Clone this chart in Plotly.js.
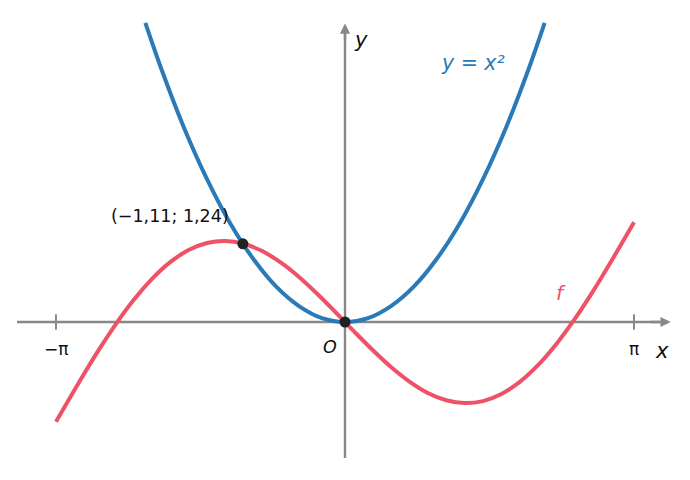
<!DOCTYPE html>
<html>
<head>
<meta charset="utf-8">
<script src="https://cdn.plot.ly/plotly-3.0.1.min.js"></script>
<style>
  body { margin: 0; background: #fff; }
  #chart { width: 690px; height: 480px; }
</style>
</head>
<body>
<div id="chart"></div>
<script>
var redX = [-3.1416, -2.9, -2.7, -2.5, -2.3, -2.1, -1.9, -1.7, -1.5, -1.3, -1.1, -0.9, -0.7, -0.5, -0.3, -0.1, 0,
            0.1, 0.3, 0.5, 0.7, 0.9, 1.1, 1.3, 1.5, 1.7, 1.9, 2.1, 2.3, 2.5, 2.7, 2.9, 3.1416];
var redY = [-1.571, -0.972, -0.495, -0.053, 0.341, 0.676, 0.943, 1.133, 1.245, 1.277, 1.232, 1.117, 0.938, 0.709, 0.441, 0.150, 0,
            -0.150, -0.441, -0.709, -0.938, -1.117, -1.232, -1.277, -1.245, -1.133, -0.943, -0.676, -0.341, 0.053, 0.495, 0.972, 1.571];

var blueX = [-2.17, -2.0, -1.75, -1.5, -1.25, -1.0, -0.75, -0.5, -0.25, 0, 0.25, 0.5, 0.75, 1.0, 1.25, 1.5, 1.75, 2.0, 2.17];
var blueY = [4.71, 4.0, 3.06, 2.25, 1.56, 1.0, 0.56, 0.25, 0.06, 0, 0.06, 0.25, 0.56, 1.0, 1.56, 2.25, 3.06, 4.0, 4.71];

var pointX = [-1.11, 0];
var pointY = [1.232, 0];

var tickVals = [-Math.PI, Math.PI];
var tickText = ['−π', 'π'];

var gray = '#888888';
var red = '#ee5266';
var blue = '#2a7ab8';
var font = 'DejaVu Sans, sans-serif';

var traces = [
  {
    x: redX, y: redY, mode: 'lines',
    line: { color: red, width: 4, shape: 'spline' },
    hoverinfo: 'skip'
  },
  {
    x: blueX, y: blueY, mode: 'lines',
    line: { color: blue, width: 4, shape: 'spline' },
    hoverinfo: 'skip'
  },
  {
    x: tickVals, y: tickVals.map(() => 0), mode: 'markers',
    marker: { symbol: 'line-ns-open', size: 11, color: gray, line: { color: gray, width: 2 } },
    hoverinfo: 'skip'
  },
  {
    x: pointX, y: pointY, mode: 'markers',
    marker: { color: '#222222', size: 11 },
    hoverinfo: 'skip'
  }
];

function label(x, y, text, size, color, italic) {
  return {
    x: x, y: y, xref: 'x', yref: 'y', text: text, showarrow: false,
    font: { family: font, size: size, color: color, style: italic ? 'italic' : 'normal' }
  };
}

// arrowhead only; the axis line itself is a shape drawn below the curves
function arrow(x, y, ax, ay) {
  return {
    x: x, y: y, ax: ax, ay: ay, xref: 'x', yref: 'y', axref: 'x', ayref: 'y',
    text: '', showarrow: true, arrowhead: 2, arrowsize: 0.85, arrowwidth: 2.4,
    arrowcolor: gray, standoff: 0, startstandoff: 0
  };
}

var shapes = [
  { type: 'line', layer: 'below', xref: 'x', yref: 'y', x0: -3.565, x1: 3.45, y0: 0, y1: 0,
    line: { color: gray, width: 2.4 } },
  { type: 'line', layer: 'below', xref: 'x', yref: 'y', x0: 0, x1: 0, y0: -2.14, y1: 4.6,
    line: { color: gray, width: 2.4 } }
];

var annotations = [
  arrow(3.54, 0, 3.3, 0),
  arrow(0, 4.70, 0, 4.4),
  label(tickVals[0], -0.43, tickText[0], 17, '#111', false),
  label(tickVals[1], -0.43, tickText[1], 17, '#111', false),
  label(-0.165, -0.40, 'O', 17.5, '#111', true),
  label(3.445, -0.46, 'x', 21, '#111', true),
  label(0.175, 4.44, 'y', 21, '#111', true),
  label(1.39, 4.08, 'y = x²', 20.5, blue, true),
  label(2.35, 0.45, 'f', 20, red, true),
  label(-1.90, 1.67, '(−1,11; 1,24)', 17.5, '#111', false)
];

var layout = {
  width: 690,
  height: 480,
  margin: { l: 0, r: 0, t: 0, b: 0 },
  paper_bgcolor: '#ffffff',
  plot_bgcolor: '#ffffff',
  showlegend: false,
  xaxis: { range: [-3.75, 3.75], visible: false, fixedrange: true },
  yaxis: { range: [-2.488, 5.071], visible: false, fixedrange: true },
  shapes: shapes,
  annotations: annotations
};

window.addEventListener('load', (event) => {
  Plotly.newPlot('chart', traces, layout, { displayModeBar: false, staticPlot: true });
});
</script>
</body>
</html>
